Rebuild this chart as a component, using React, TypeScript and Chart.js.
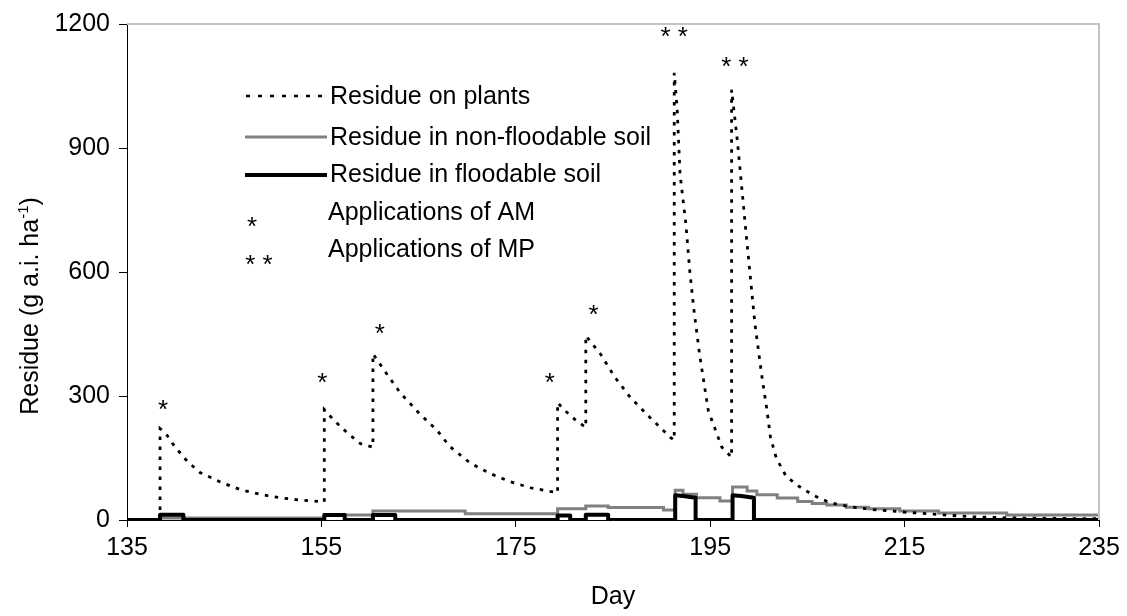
import { useEffect, useRef } from "react";
import { Chart, registerables } from "chart.js";

Chart.register(...registerables);

const FONT = '"Liberation Sans", Arial, Helvetica, sans-serif';

// Residue on plants (dotted)
const plantDays = [138.4, 138.4, 139.0, 139.9, 141.2, 142.5, 144.6, 146.6, 148.7, 150.7, 152.8, 155.3, 155.3, 156.3, 157.7, 159.0, 160.3, 160.3, 161.5, 163.1, 165.1, 166.9, 168.2, 170.3, 172.3, 174.4, 176.5, 179.3, 179.3, 180.0, 181.1, 182.2, 182.2, 183.7, 185.2, 186.8, 188.8, 190.9, 191.3, 191.3, 191.6, 191.9, 192.5, 192.9, 193.3, 193.9, 194.8, 196.2, 197.2, 197.2, 197.8, 198.6, 199.1, 199.6, 200.3, 200.8, 201.2, 201.8, 202.8, 204.1, 205.6, 207.3, 209.4, 211.4, 215.0, 218.0, 221.7, 226.0, 230.0, 235.0];
const plantResidue = [0, 221, 209, 178, 142, 115, 92, 74, 62, 54, 48, 44, 267, 241, 210, 185, 176, 402, 361, 308, 257, 217, 178, 138, 113, 93, 78, 66, 284, 266, 243, 224, 446, 402, 345, 296, 248, 200, 193, 1082, 995, 836, 716, 602, 513, 402, 265, 176, 152, 1041, 916, 716, 595, 475, 350, 272, 200, 150, 106, 82, 60, 42, 32, 26, 19, 14, 8, 5, 4, 3];

// Residue in non-floodable soil (grey, stepped)
const nonFloodDays = [138.4, 155.3, 160.3, 169.8, 179.3, 182.2, 184.5, 190.2, 191.4, 192.2, 193.6, 196.0, 197.3, 198.8, 199.8, 201.9, 204.0, 205.5, 207.0, 209.0, 211.3, 214.5, 218.5, 225.5, 235.0];
const nonFloodResidue = [5, 12, 22, 15, 27, 34, 30, 24, 72, 62, 54, 46, 80, 70, 61, 53, 45, 40, 36, 31, 27, 22, 17, 12, 10];

// Residue in floodable soil (black)
const floodDays = [135, 138.4, 138.4, 140.8, 140.8, 155.3, 155.3, 157.4, 157.4, 160.3, 160.3, 162.6, 162.6, 179.3, 179.3, 180.6, 180.6, 182.2, 182.2, 184.5, 184.5, 191.4, 191.4, 192.2, 193.5, 193.5, 197.3, 197.3, 198.2, 199.5, 199.5, 235];
const floodResidue = [0, 0, 13, 13, 0, 0, 12, 12, 0, 0, 12, 12, 0, 0, 11, 11, 0, 0, 13, 13, 0, 0, 60, 58, 54, 0, 0, 60, 58, 54, 0, 0];

// Application markers (day, residue level of the marker)
const amDays = [138.7, 155.1, 161.0, 178.5, 183.0];
const amLevels = [282, 349, 467, 349, 513];
const mpDays = [191.3, 197.55];
const mpLevels = [1186, 1113];

const xTicks = [135, 155, 175, 195, 215, 235];
const yTicks = [0, 300, 600, 900, 1200];

const legendLabels = [
  "Residue on plants",
  "Residue in non-floodable soil",
  "Residue in floodable soil",
  "Applications of AM",
  "Applications of MP",
];

const DOT_DASH = [3.5, 6.5];
const STAR_SIZE = 26;

function drawStar(ctx: CanvasRenderingContext2D, text: string, cx: number, cy: number, size: number) {
  ctx.font = `${size}px ${FONT}`;
  ctx.textAlign = "center";
  ctx.textBaseline = "alphabetic";
  ctx.fillText(text, cx, cy + size * 0.575);
}

const overlayPlugin = {
  id: "overlay",
  afterDatasetsDraw(chart: any) {
    const { ctx, chartArea: a, scales } = chart;
    const x = scales.x;
    const y = scales.y;
    ctx.save();
    // light frame top & right
    ctx.strokeStyle = "#c4c4c4";
    ctx.lineWidth = 2;
    ctx.setLineDash([]);
    ctx.beginPath();
    ctx.moveTo(a.left, a.top);
    ctx.lineTo(a.right, a.top);
    ctx.lineTo(a.right, a.bottom);
    ctx.stroke();

    // application markers
    ctx.fillStyle = "#000";
    amDays.forEach((d, i) => {
      drawStar(ctx, "*", x.getPixelForValue(d), y.getPixelForValue(amLevels[i]), STAR_SIZE);
    });
    mpDays.forEach((d, i) => {
      drawStar(ctx, "* *", x.getPixelForValue(d), y.getPixelForValue(mpLevels[i]), STAR_SIZE);
    });

    // legend
    const lx0 = 246;
    const lx1 = 326;
    const tx = 330;
    ctx.lineCap = "butt";
    // dotted
    ctx.strokeStyle = "#000";
    ctx.lineWidth = 2.5;
    ctx.setLineDash([4, 8]);
    ctx.beginPath();
    ctx.moveTo(lx0, 96);
    ctx.lineTo(lx1 - 4, 96);
    ctx.stroke();
    ctx.setLineDash([]);
    // grey
    ctx.strokeStyle = "#808080";
    ctx.lineWidth = 3;
    ctx.beginPath();
    ctx.moveTo(lx0 - 1, 137);
    ctx.lineTo(lx1 + 1, 137);
    ctx.stroke();
    // black
    ctx.strokeStyle = "#000";
    ctx.lineWidth = 4;
    ctx.beginPath();
    ctx.moveTo(lx0 - 1, 175);
    ctx.lineTo(lx1 + 1, 175);
    ctx.stroke();

    ctx.fillStyle = "#000";
    drawStar(ctx, "*", 252, 220, STAR_SIZE);
    drawStar(ctx, "* *", 259, 258, STAR_SIZE);

    ctx.font = `25px ${FONT}`;
    ctx.textAlign = "left";
    ctx.textBaseline = "middle";
    ctx.fillText(legendLabels[0], tx, 97);
    ctx.fillText(legendLabels[1], tx, 138);
    ctx.fillText(legendLabels[2], tx, 175);
    ctx.fillText(legendLabels[3], tx - 2, 213);
    ctx.fillText(legendLabels[4], tx - 2, 250);

    // y-axis title with superscript
    ctx.translate(29, 306);
    ctx.rotate(-Math.PI / 2);
    const main = "Residue (g a.i. ha";
    const sup = "-1";
    const end = ")";
    ctx.font = `25px ${FONT}`;
    const w1 = ctx.measureText(main).width;
    const w3 = ctx.measureText(end).width;
    ctx.font = `15px ${FONT}`;
    const w2 = ctx.measureText(sup).width;
    let sx = -(w1 + w2 + w3) / 2;
    const base = 9;
    ctx.textAlign = "left";
    ctx.textBaseline = "alphabetic";
    ctx.font = `25px ${FONT}`;
    ctx.fillText(main, sx, base);
    sx += w1;
    ctx.font = `15px ${FONT}`;
    ctx.fillText(sup, sx, base - 10);
    sx += w2;
    ctx.font = `25px ${FONT}`;
    ctx.fillText(end, sx, base);
    ctx.restore();
  },
};

export default function App() {
  const canvasRef = useRef<HTMLCanvasElement | null>(null);

  useEffect(() => {
    const canvas = canvasRef.current;
    if (!canvas) return;
    const chart = new Chart(canvas, {
      type: "line",
      data: {
        datasets: [
          {
            label: legendLabels[0],
            data: plantDays.map((d, i) => ({ x: d, y: plantResidue[i] })),
            borderColor: "#000",
            borderWidth: 2.8,
            borderDash: DOT_DASH,
            pointRadius: 0,
            fill: false,
            tension: 0,
          },
          {
            label: legendLabels[2],
            data: floodDays.map((d, i) => ({ x: d, y: floodResidue[i] })),
            borderColor: "#000",
            borderWidth: 4,
            borderJoinStyle: "round",
            pointRadius: 0,
            fill: false,
            tension: 0,
          },
          {
            label: legendLabels[1],
            data: nonFloodDays.map((d, i) => ({ x: d, y: nonFloodResidue[i] })),
            borderColor: "#808080",
            borderWidth: 3,
            stepped: true,
            pointRadius: 0,
            fill: false,
          },
        ],
      },
      options: {
        animation: false,
        responsive: false,
        devicePixelRatio: 1,
        layout: { padding: { top: 22, right: 28, left: 0, bottom: 0 } },
        plugins: {
          legend: { display: false },
          tooltip: { enabled: false },
        },
        scales: {
          x: {
            type: "linear",
            min: 135,
            max: 235,
            afterBuildTicks: (s: any) => {
              s.ticks = xTicks.map((v) => ({ value: v }));
            },
            afterFit: (s: any) => {
              s.height = 96;
            },
            grid: {
              display: true,
              drawOnChartArea: false,
              drawTicks: true,
              tickLength: 7,
              tickColor: "#000",
              color: "#000",
            },
            border: { display: true, color: "#000", width: 1 },
            ticks: {
              color: "#000",
              font: { family: FONT, size: 25 },
              padding: 6,
              maxRotation: 0,
              autoSkip: false,
              callback: (v: any) => String(v),
            },
            title: {
              display: true,
              text: "Day",
              color: "#000",
              font: { family: FONT, size: 25 },
              padding: { top: 0, bottom: 4 },
            },
          },
          y: {
            type: "linear",
            min: 0,
            max: 1200,
            afterBuildTicks: (s: any) => {
              s.ticks = yTicks.map((v) => ({ value: v }));
            },
            afterFit: (s: any) => {
              s.width = 127;
            },
            grid: {
              display: true,
              drawOnChartArea: false,
              drawTicks: true,
              tickLength: 8,
              tickColor: "#000",
              color: "#000",
            },
            border: { display: true, color: "#000", width: 1 },
            ticks: {
              color: "#000",
              font: { family: FONT, size: 25 },
              padding: 9,
              callback: (v: any) => String(v),
            },
          },
        },
      },
      plugins: [overlayPlugin],
    });
    return () => chart.destroy();
  }, []);

  return (
    <div style={{ position: "absolute", left: 0, top: 0, width: 1127, height: 616, background: "#fff" }}>
      <canvas ref={canvasRef} width={1127} height={616} style={{ display: "block", width: 1127, height: 616 }} />
    </div>
  );
}
